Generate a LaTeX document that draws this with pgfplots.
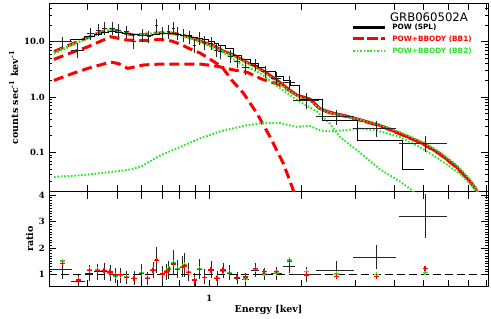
\documentclass[border=0pt]{standalone}
\usepackage{fontspec}
\setmainfont{DejaVu Serif}
\newfontfamily\legfont{DejaVu Sans}
\usepackage{pgfplots}
\usepackage{pgfplotstable}
\pgfplotsset{compat=1.18}
\definecolor{mygreen}{RGB}{40,230,40}

\pgfplotstableread{
E V dx dy
0.3324 10.0 0.070 1.3
0.3727 7.1 0.050 1.45
0.4108 14.2 0.025 2.3
0.4362 16.3 0.020 2.6
0.4561 17.5 0.020 2.9
0.4842 17.5 0.020 2.9
0.5064 16.3 0.018 2.7
0.5376 15.2 0.018 2.6
0.5666 10.0 0.018 1.9
0.6060 13.2 0.018 2.3
0.6337 12.3 0.015 2.1
0.6728 20.0 0.012 3.6
0.7037 14.2 0.012 2.6
0.7360 15.2 0.012 2.8
0.7640 17.5 0.012 3.1
0.7873 14.2 0.012 2.6
0.8233 13.2 0.012 2.4
0.8609 12.3 0.012 2.2
0.8939 8.7 0.012 1.7
0.9279 11.5 0.012 2.1
0.9633 9.6 0.012 1.8
1.0151 9.4 0.015 1.7
1.0537 7.1 0.015 1.4
1.0857 6.6 0.015 1.3
1.1700 5.5 0.020 1.0
1.2328 4.5 0.022 0.8
1.3089 3.4 0.025 0.6
1.4104 3.8 0.028 0.6
1.5196 2.87 0.032 0.45
1.6501 2.2 0.040 0.35
1.8185 1.85 0.045 0.3
2.0759 0.88 0.100 0.2
2.5975 0.44 0.140 0.1
3.5035 0.27 0.160 0.065
5.0525 0.146 0.180 0.036
}\updata

\pgfplotstableread{
E V
0.3022 10.0
0.3537 11.0
0.3927 12.5
0.4232 13.5
0.4461 14.5
0.4700 15.0
0.4952 14.8
0.5219 14.0
0.5539 13.5
0.5880 13.0
0.6198 13.2
0.6531 13.5
0.6882 13.8
0.7197 14.0
0.7526 13.8
0.7754 13.5
0.8050 13.2
0.8419 12.8
0.8740 12.0
0.9143 11.5
0.9490 10.8
0.9925 10.0
1.0381 9.2
1.0696 8.5
1.1270 7.4
1.1966 5.6
1.2700 4.7
1.3590 4.0
1.4426 3.4
1.5196 2.87
1.6378 2.4
1.7392 2.0
1.8323 1.65
1.9745 0.9
2.3448 0.38
3.0458 0.166
4.2651 0.049
5.0259 0.049
}\splhist

\pgfplotstableread{
E V
0.3114 6.6
0.3357 8.0
0.3727 10.0
0.4108 12.5
0.4329 14.2
0.4770 16.8
0.5064 15.5
0.5376 14.0
0.5666 13.2
0.6106 13.5
0.6580 14.2
0.7090 14.5
0.7640 14.2
0.8233 13.0
0.8873 11.5
}\redtotA

\pgfplotstableread{
E V
0.8873 11.5
0.9561 9.8
1.0304 8.5
1.1100 6.8
1.1966 5.8
1.3089 4.4
1.4104 3.6
1.5196 2.85
1.6750 1.95
1.8050 1.4
1.9307 1.08
2.1281 0.92
2.2932 0.62
2.4713 0.53
2.8058 0.45
3.0918 0.39
3.5912 0.31
4.1703 0.22
4.9516 0.146
5.6234 0.096
6.3879 0.055
7.0387 0.031
7.4163 0.021
7.6000 0.016
}\redtotB

\pgfplotstableread{
E V
0.3114 2.0
0.3537 2.6
0.4018 3.3
0.4770 4.3
0.5064 4.0
0.5417 3.3
0.6106 3.8
0.6933 3.95
0.8050 3.95
0.9350 3.95
1.0616 3.6
1.1966 3.1
1.3287 2.8
1.4863 2.1
1.6750 1.7
1.8050 1.37
1.9307 1.07
2.1281 0.91
2.2932 0.61
2.4713 0.52
2.8058 0.445
3.0918 0.385
3.5912 0.305
4.1703 0.218
4.9516 0.145
5.6234 0.095
6.3879 0.054
7.0387 0.031
7.4163 0.021
7.6000 0.016
}\redpl

\pgfplotstableread{
E V
0.3114 4.8
0.3537 6.3
0.4018 8.1
0.4770 12.3
0.5064 11.5
0.5417 10.7
0.6106 10.5
0.6933 11.0
0.7526 10.3
0.8050 9.0
0.8609 7.5
0.9350 6.2
1.0075 4.8
1.0996 3.5
1.1849 2.0
1.2923 1.17
1.4286 0.51
1.5779 0.19
1.7428 0.063
1.8601 0.024
1.9000 0.017
}\redbb

\pgfplotstableread{
E V
0.3114 6.3
0.3357 7.8
0.3727 9.8
0.4108 12.5
0.4329 14.3
0.4770 17.0
0.5064 15.6
0.5376 14.0
0.5666 13.3
0.6106 13.6
0.6580 14.3
0.7090 14.6
0.7640 14.3
0.8233 13.0
0.8873 11.4
0.9561 9.6
1.0304 8.3
1.1100 6.7
1.1966 5.6
1.3089 4.3
1.4104 3.5
1.5196 2.7
1.6750 1.8
1.8050 1.35
1.9307 1.05
2.1281 0.85
2.2932 0.62
2.4713 0.52
2.8058 0.44
3.0918 0.39
3.5912 0.32
4.1703 0.235
4.9516 0.155
5.6234 0.103
6.3879 0.060
7.0387 0.034
7.4163 0.023
7.6500 0.017
}\grtot

\pgfplotstableread{
E V
0.3114 6.1
0.3727 9.6
0.4329 14.0
0.4770 16.5
0.5376 13.8
0.6106 13.3
0.7090 14.3
0.8233 12.8
0.9561 9.3
1.1100 6.4
1.2608 4.0
1.4640 2.7
1.7006 1.44
1.9745 0.82
2.2417 0.55
2.4713 0.33
2.6624 0.19
3.0918 0.10
3.5912 0.05
4.1703 0.03
4.5608 0.021
4.7700 0.017
}\grsoft

\pgfplotstableread{
E V
0.3114 0.036
0.3895 0.039
0.5404 0.048
0.5970 0.055
0.6933 0.089
0.8050 0.126
0.9350 0.18
1.0857 0.24
1.3257 0.31
1.4973 0.34
1.7006 0.34
1.9267 0.29
2.1281 0.30
2.2932 0.25
2.4713 0.24
2.7230 0.25
3.0918 0.27
3.5035 0.25
4.1703 0.19
4.8423 0.126
5.6234 0.075
6.5321 0.042
7.3987 0.021
7.6000 0.017
}\grhard

\pgfplotstableread{
E R G B dx dy
0.3324 1.41 1.50 1.20 0.075 0.30
0.3736 0.78 0.80 0.72 0.050 0.17
0.4056 1.14 1.16 1.04 0.030 0.22
0.4319 1.14 1.16 1.10 0.025 0.22
0.4536 1.15 1.14 1.12 0.020 0.24
0.4746 1.09 1.05 1.05 0.020 0.22
0.4952 0.97 0.93 0.95 0.015 0.20
0.5141 0.99 0.97 0.97 0.015 0.20
0.5376 0.89 0.90 0.88 0.015 0.18
0.5679 0.83 0.85 0.85 0.015 0.18
0.6003 1.04 1.06 1.08 0.015 0.22
0.6279 0.85 0.87 0.85 0.012 0.16
0.6546 1.14 1.16 1.15 0.012 0.22
0.6728 1.51 1.53 1.55 0.010 0.40
0.7024 1.01 1.03 1.00 0.010 0.22
0.7253 1.09 1.12 1.10 0.010 0.22
0.7379 1.19 1.22 1.15 0.010 0.26
0.7625 1.39 1.45 1.45 0.010 0.40
0.7889 1.19 1.22 1.20 0.010 0.26
0.8153 1.26 1.28 1.30 0.010 0.32
0.8295 1.31 1.35 1.35 0.010 0.36
0.8566 1.06 1.10 1.10 0.010 0.26
0.8939 0.78 0.80 0.80 0.012 0.16
0.9300 1.19 1.20 1.20 0.012 0.30
0.9633 0.87 0.88 0.90 0.012 0.20
1.0128 1.16 1.15 1.18 0.015 0.25
1.0593 0.85 0.86 0.85 0.015 0.20
1.1078 1.16 1.12 1.15 0.018 0.20
1.1639 1.04 1.06 1.05 0.018 0.20
1.2301 0.89 0.88 0.85 0.022 0.15
1.3089 0.90 0.82 0.80 0.025 0.15
1.4104 1.23 1.20 1.15 0.028 0.18
1.5085 1.10 1.03 1.00 0.032 0.15
1.6589 1.10 1.05 1.03 0.040 0.15
1.8220 1.48 1.54 1.29 0.045 0.15
2.0759 0.97 1.10 1.01 0.100 0.20
2.5975 0.91 1.01 1.16 0.140 0.26
3.5035 0.91 1.00 1.64 0.160 0.37
5.0525 1.23 1.06 3.21 0.180 0.74
}\ratiodata

\begin{document}
\begin{tikzpicture}
\path[use as bounding box] (0,0) rectangle (491pt,319pt);

\begin{axis}[
  xmode=log, xmin=0.3, xmax=8.1,
  scale only axis, width=439pt, height=95pt,
  at={(49pt,32.3pt)}, anchor=south west,
  tick align=inside, major tick length=7pt, minor tick length=3.5pt,
  xtick={0.3,0.4,0.5,0.6,0.7,0.8,0.9,1,2,3,4,5,6,7,8},
  xticklabels={,,,,,,,1,,,,,,,},
  xminorticks=false,
  every tick/.append style={black, line width=0.6pt},
  axis line style={line width=0.8pt},
  every tick label/.append style={font=\bfseries\fontsize{8.5}{10}\selectfont},
  yticklabel style={inner sep=0pt, xshift=-4pt},
  xticklabel style={inner sep=0pt, yshift=-8.5pt},
  ymin=0.53, ymax=4.13,
  ytick={1,2,3,4}, yticklabels={1,2,3,4},
  minor y tick num=9,
  xlabel={Energy [kev]},
  xlabel style={at={(axis description cs:0.5,-0.274)}, anchor=base, inner sep=0pt, font=\bfseries\fontsize{9.5}{11}\selectfont},
  ylabel={ratio},
  ylabel style={at={(axis description cs:-0.0364,0.5)}, anchor=base, inner sep=0pt, font=\bfseries\fontsize{9.5}{11}\selectfont},
]
\addplot[black, line width=1.3pt, dash pattern=on 8pt off 4pt] coordinates {(0.3,1) (8.1,1)};
\addplot[only marks, mark=text, text mark={},
  error bars/x dir=both, error bars/x explicit relative, error bars/error mark=none,
  error bars/error bar style={black!85, line width=0.8pt}]
  table[x=E, y=B, x error=dx] {\ratiodata};
\addplot[only marks, mark=text, text mark={},
  error bars/y dir=both, error bars/y explicit,
  error bars/error bar style={black!85, line width=0.8pt},
  error bars/error mark options={black!85, line width=0.8pt, mark size=2.2pt}]
  table[x=E, y=B, y error=dy] {\ratiodata};
\addplot[only marks, mark=+, mark size=2.6pt, mygreen, line width=1.3pt]
  table[x=E, y=G] {\ratiodata};
\addplot[only marks, mark=+, mark size=2.6pt, red, line width=1.3pt]
  table[x=E, y=R] {\ratiodata};
\end{axis}

\begin{axis}[
  xmode=log, xmin=0.3, xmax=8.1,
  scale only axis, width=439pt, height=188.4pt,
  at={(49pt,127.3pt)}, anchor=south west,
  tick align=inside, major tick length=7pt, minor tick length=3.5pt,
  xtick={0.3,0.4,0.5,0.6,0.7,0.8,0.9,1,2,3,4,5,6,7,8},
  xticklabels={},
  xminorticks=false,
  every tick/.append style={black, line width=0.6pt},
  axis line style={line width=0.8pt},
  every tick label/.append style={font=\bfseries\fontsize{8.5}{10}\selectfont},
  yticklabel style={inner sep=0pt, xshift=-4pt},
  ymode=log, ymin=0.0195, ymax=49.5,
  ytick={0.1,1,10}, yticklabels={0.1,1.0,10.0},
  minor ytick={0.02,0.03,0.04,0.05,0.06,0.07,0.08,0.09,0.2,0.3,0.4,0.5,0.6,0.7,0.8,0.9,2,3,4,5,6,7,8,9,20,30,40},
  ylabel={counts sec\textsuperscript{-1} kev\textsuperscript{-1}},
  ylabel style={at={(axis description cs:-0.0706,0.5)}, anchor=base, inner sep=0pt, font=\bfseries\fontsize{9.5}{11}\selectfont},
  legend style={at={(axis description cs:0.6895,0.89)}, anchor=north west,
    draw=none, fill=none, inner sep=0pt, row sep=6.3pt,
    font=\legfont\bfseries\fontsize{7.3}{8}\selectfont,
    nodes={inner sep=0pt, text height=5.6pt, text depth=0pt},
    /tikz/every odd column/.append style={column sep=5.5pt}},
  legend cell align=left,
]
\addplot[forget plot, red, line width=3pt, dash pattern=on 10pt off 5pt] table[x=E,y=V] {\redbb};
\addplot[forget plot, red, line width=3pt, dash pattern=on 10pt off 5pt] table[x=E,y=V] {\redpl};
\addplot[forget plot, red, line width=3pt, dash pattern=on 10pt off 5pt] table[x=E,y=V] {\redtotA};
\addplot[forget plot, red, line width=3pt] table[x=E,y=V] {\redtotB};
\addplot[forget plot, mygreen, line width=2pt, dash pattern=on 1.6pt off 1.8pt] table[x=E,y=V] {\grhard};
\addplot[forget plot, mygreen, line width=2pt, dash pattern=on 1.6pt off 1.8pt] table[x=E,y=V] {\grsoft};
\addplot[forget plot, mygreen, line width=2pt, dash pattern=on 1.6pt off 1.8pt] table[x=E,y=V] {\grtot};
\addplot[forget plot, black, line width=1pt, const plot mark left] table[x=E,y=V] {\splhist};
\addplot[forget plot, only marks, mark=text, text mark={},
  error bars/x dir=both, error bars/x explicit relative, error bars/error mark=none,
  error bars/error bar style={black!85, line width=0.8pt}]
  table[x=E, y=V, x error=dx] {\updata};
\addplot[forget plot, only marks, mark=text, text mark={},
  error bars/y dir=both, error bars/y explicit,
  error bars/error bar style={black!85, line width=0.8pt},
  error bars/error mark options={black!85, line width=0.8pt, mark size=2.2pt}]
  table[x=E, y=V, y error=dy] {\updata};

\addlegendimage{legend image code/.code={\draw[black, line width=3pt] (0pt,0pt) -- (32pt,0pt);}}
\addlegendentry{POW (SPL)}
\addlegendimage{legend image code/.code={\draw[red, line width=3pt, dash pattern=on 11pt off 3pt] (0pt,0pt) -- (32pt,0pt);}}
\addlegendentry{\textcolor{red}{POW+BBODY (BB1)}}
\addlegendimage{legend image code/.code={\draw[mygreen, line width=2pt, dash pattern=on 1.6pt off 1.8pt] (0pt,0pt) -- (32pt,0pt);}}
\addlegendentry{\textcolor{mygreen}{POW+BBODY (BB2)}}

\node[font=\legfont\fontsize{11.7}{13}\selectfont, anchor=base, inner sep=0pt]
  at (axis description cs:0.8656,0.9023) {GRB060502A};
\end{axis}
\end{tikzpicture}
\end{document}
